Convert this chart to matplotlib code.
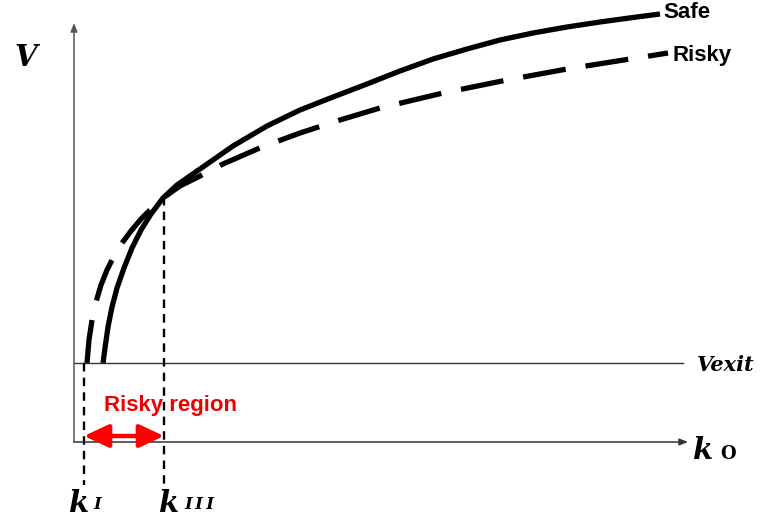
import matplotlib
matplotlib.use("Agg")
import matplotlib.pyplot as plt

# ---- data (k on horizontal axis, V on vertical axis) ----
k_safe = [29, 31, 34, 38, 43, 50, 58, 67, 77, 89, 103, 126, 159, 193, 226, 259,
          293, 326, 359, 393, 426, 459, 493, 526, 559, 586]
v_safe = [79, 94, 115, 135, 154, 174, 194, 212, 228, 244, 257, 273, 296, 316, 332, 345,
          358, 371, 383, 393, 402, 409, 415, 420, 424.5, 428]

k_risky = [13, 15, 18, 22, 27, 33, 40, 48, 57, 67, 78, 89, 106, 126, 149, 188,
           226, 266, 306, 369, 433, 493, 556, 594]
v_risky = [79, 102, 122, 140, 157, 172, 186, 199, 211, 223, 234, 244, 256, 266, 278, 295,
           309, 322, 334, 349, 362, 373, 383, 389]

v_exit = 79
k_I = 10
k_III = 90
v_cross = 245

series_labels = ["Safe", "Risky"]
region_label = "Risky region"

fig = plt.figure(figsize=(7.68, 5.23), dpi=100)
ax = fig.add_axes([0, 0, 1, 1])
ax.set_xlim(-74, 694)
ax.set_ylim(-81, 442)
ax.axis("off")

axis_col = "#555555"
# axes with arrows
ax.annotate("", xy=(0, 419), xytext=(0, 0),
            arrowprops=dict(arrowstyle="-|>,head_length=0.5,head_width=0.2",
                            color=axis_col, lw=1.1, shrinkA=0, shrinkB=0))
ax.annotate("", xy=(614, 0), xytext=(0, 0),
            arrowprops=dict(arrowstyle="-|>,head_length=0.5,head_width=0.2",
                            color="#333333", lw=1.1, shrinkA=0, shrinkB=0))
# V_exit line
ax.plot([0, 609], [v_exit, v_exit], color="#333333", lw=1.0)

# curves
ax.plot(k_safe, v_safe, color="black", lw=3.8, solid_capstyle="butt",
        solid_joinstyle="round")
ax.plot(k_risky, v_risky, color="black", lw=3.8, dashes=(8.2, 3.8),
        dash_capstyle="butt", dash_joinstyle="round")

# dashed verticals
ax.plot([k_I, k_I], [v_exit, -43], color="black", lw=1.7, dashes=(3.6, 2.6))
ax.plot([k_III, k_III], [v_cross, -43], color="black", lw=1.7, dashes=(3.6, 2.6))

# red double arrow
ax.annotate("", xy=(k_III, 6), xytext=(k_I, 6),
            arrowprops=dict(arrowstyle="<|-|>,head_length=1.5,head_width=0.7",
                            color="#ff0000", lw=3.2, shrinkA=0, shrinkB=0))
ax.text(96, 37, region_label, color="#ee0000", fontsize=16, fontweight="bold",
        family="Liberation Sans", ha="center", va="center")

# series labels
ax.text(589, 429, series_labels[0], fontsize=16, fontweight="bold",
        family="Liberation Sans", ha="left", va="center")
ax.text(598, 386, series_labels[1], fontsize=16, fontweight="bold",
        family="Liberation Sans", ha="left", va="center")

serif = dict(family="DejaVu Serif", fontweight="bold", fontstyle="italic")
ax.text(-48, 385, "V", fontsize=21, ha="center", va="center", **serif)
ax.text(623, 77, "Vexit", fontsize=15, ha="left", va="center", **serif)
ax.text(619, -17, "k", fontsize=21, ha="left", va="baseline", **serif)
ax.text(646, -17, "O", fontsize=13, ha="left", va="baseline",
        family="DejaVu Serif", fontweight="bold")
ax.text(-5, -70, "k", fontsize=21, ha="left", va="baseline", **serif)
ax.text(19, -67, "I", fontsize=12, ha="left", va="baseline", **serif)
ax.text(85, -70, "k", fontsize=21, ha="left", va="baseline", **serif)
ax.text(110, -67, "I\u2009I\u2009I", fontsize=12, ha="left", va="baseline", **serif)

fig.savefig("out.png", dpi=100)
